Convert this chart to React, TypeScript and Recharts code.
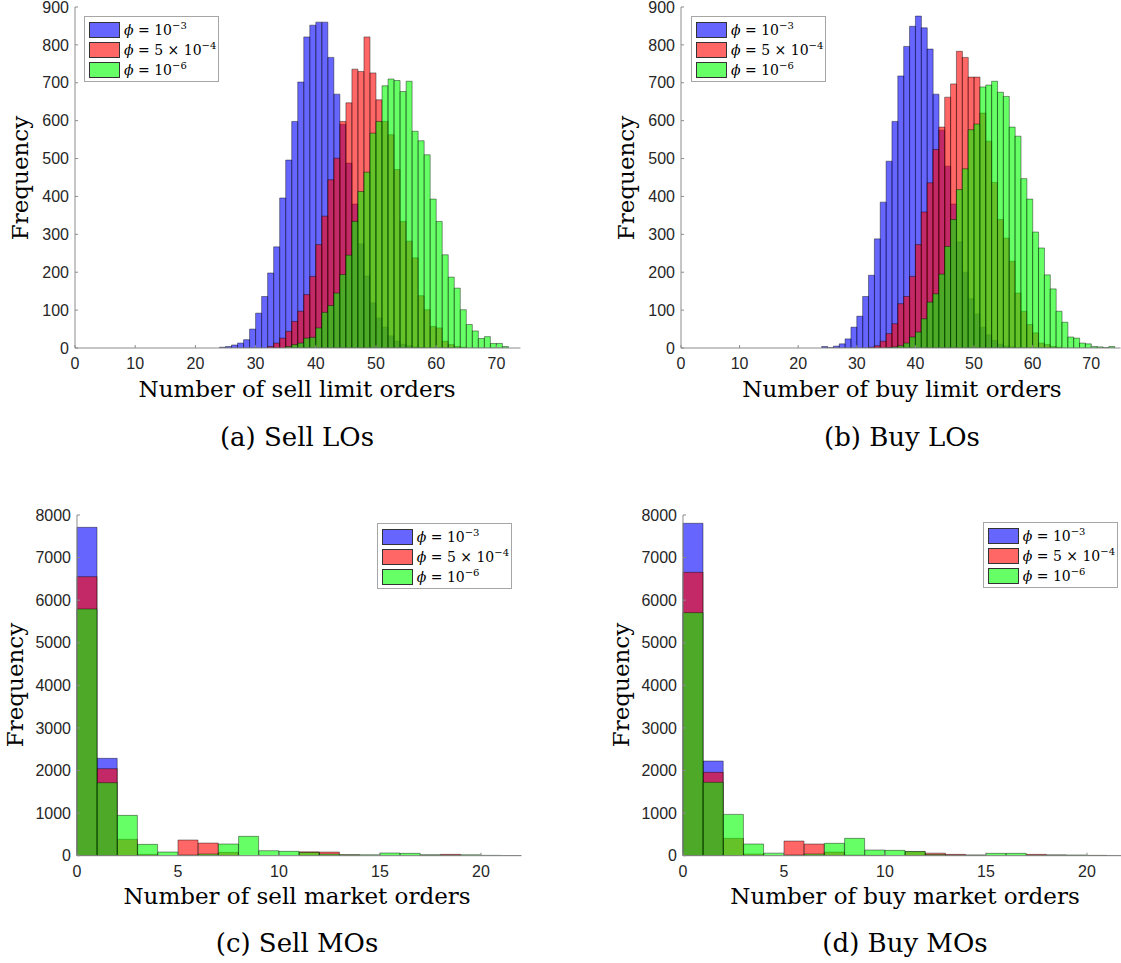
import React from "react";
import { Bar, BarChart, Legend, XAxis, YAxis } from "recharts";

const FONT_SERIF = "'DejaVu Serif', serif";
const FONT_SANS = "'Liberation Sans', Arial, sans-serif";

const BLUE = "#0000ff";
const RED = "#ff0000";
const GREEN = "#00ff00";

// (a) sell limit orders: counts per unit bin, first bin given by *_START
const SELL_LO_BLUE_START = 24;
const sellLoBlue = [2, 4, 8, 13, 22, 50, 92, 136, 198, 267, 396, 496, 598, 702, 821, 852, 860, 860, 767, 670, 590, 488, 380, 275, 190, 119, 79, 55, 32, 18, 10, 6, 3, 1];
const SELL_LO_RED_START = 32;
const sellLoRed = [4, 13, 26, 44, 70, 97, 141, 189, 273, 348, 444, 501, 598, 647, 736, 730, 821, 726, 655, 598, 563, 471, 334, 282, 238, 138, 101, 57, 53, 18, 9, 4, 2];
const SELL_LO_GREEN_START = 35;
const sellLoGreen = [4, 9, 13, 26, 28, 53, 94, 112, 145, 194, 245, 334, 413, 464, 567, 598, 692, 710, 706, 677, 704, 572, 547, 510, 393, 334, 246, 187, 158, 101, 62, 45, 25, 30, 12, 12, 4];

// (b) buy limit orders
const BUY_LO_BLUE_START = 24;
const buyLoBlue = [4, 1, 5, 11, 24, 55, 84, 136, 192, 288, 385, 493, 598, 718, 796, 849, 876, 845, 789, 670, 575, 480, 380, 280, 200, 130, 90, 55, 35, 20, 10, 5, 3];
const BUY_LO_RED_START = 32;
const buyLoRed = [2, 6, 18, 38, 64, 117, 136, 189, 273, 359, 436, 524, 583, 662, 697, 783, 767, 715, 715, 620, 546, 437, 339, 290, 229, 145, 97, 62, 40, 13, 9, 4, 2];
const BUY_LO_GREEN_START = 35;
const buyLoGreen = [1, 3, 6, 13, 29, 42, 77, 121, 143, 195, 268, 339, 418, 473, 576, 591, 689, 694, 704, 675, 664, 583, 559, 447, 393, 306, 264, 193, 156, 97, 68, 29, 26, 13, 11, 4, 3, 1, 4];

// (c) sell market orders, bins start at 0
const sellMoBlue = [7710, 2286];
const sellMoRed = [6552, 2043, 384, 31, 0, 368, 297, 78, 0, 0, 0, 90, 86, 20, 0, 0, 0, 10, 31, 0, 0, 0];
const sellMoGreen = [5793, 1714, 947, 266, 86, 15, 39, 274, 454, 117, 102, 75, 39, 20, 23, 63, 55, 23, 10, 23, 8, 3];

// (d) buy market orders
const buyMoBlue = [7805, 2223];
const buyMoRed = [6654, 1957, 407, 39, 0, 344, 274, 86, 16, 10, 0, 95, 60, 31, 10, 0, 0, 31, 16, 5, 3, 0];
const buyMoGreen = [5707, 1722, 970, 274, 60, 16, 39, 290, 407, 133, 125, 100, 30, 10, 16, 55, 55, 8, 16, 16, 8, 5];

const LO_X_TICKS = [0, 10, 20, 30, 40, 50, 60, 70];
const MO_X_TICKS = [0, 5, 10, 15, 20];
const LO_Y_TICKS = [0, 100, 200, 300, 400, 500, 600, 700, 800, 900];
const MO_Y_TICKS = [0, 1000, 2000, 3000, 4000, 5000, 6000, 7000, 8000];

const LEGEND_ITEMS = [
  { color: "#6666ff", mant: "", exp: "\u22123" },
  { color: "#ff6666", mant: "5 \u00d7 ", exp: "\u22124" },
  { color: "#66ff66", mant: "", exp: "\u22126" },
];

function buildRows(
  binCount: number,
  blue: number[], blueStart: number,
  red: number[], redStart: number,
  green: number[], greenStart: number,
) {
  const rows = [];
  for (let k = 0; k < binCount; k++) {
    rows.push({
      bin: k,
      b: blue[k - blueStart] ?? 0,
      r: red[k - redStart] ?? 0,
      g: green[k - greenStart] ?? 0,
    });
  }
  return rows;
}

const Y_AXIS_W = 60;
const TOP_PAD = 12;
const RIGHT_PAD = 5;
const X_AXIS_H = 35;

const panels = [
  {
    key: "a",
    plotLeft: 74.7, plotTop: 7.3, plotW: 445.5, plotH: 341,
    rows: buildRows(74, sellLoBlue, SELL_LO_BLUE_START, sellLoRed, SELL_LO_RED_START, sellLoGreen, SELL_LO_GREEN_START),
    xMax: 74, xTicks: LO_X_TICKS, yMax: 900, yTicks: LO_Y_TICKS,
    legendX: 84, legendY: 16,
    yLabelX: 20, xLabel: "Number of sell limit orders", labelX: 297, labelY: 389,
    caption: "(a) Sell LOs", captionY: 437,
  },
  {
    key: "b",
    plotLeft: 680.7, plotTop: 7.3, plotW: 439.5, plotH: 341,
    rows: buildRows(75, buyLoBlue, BUY_LO_BLUE_START, buyLoRed, BUY_LO_RED_START, buyLoGreen, BUY_LO_GREEN_START),
    xMax: 75, xTicks: LO_X_TICKS, yMax: 900, yTicks: LO_Y_TICKS,
    legendX: 691, legendY: 16,
    yLabelX: 626, xLabel: "Number of buy limit orders", labelX: 902, labelY: 389,
    caption: "(b) Buy LOs", captionY: 437,
  },
  {
    key: "c",
    plotLeft: 76.7, plotTop: 515, plotW: 444.4, plotH: 340.7,
    rows: buildRows(22, sellMoBlue, 0, sellMoRed, 0, sellMoGreen, 0),
    xMax: 22, xTicks: MO_X_TICKS, yMax: 8000, yTicks: MO_Y_TICKS,
    legendX: 376.7, legendY: 523.3,
    yLabelX: 15, xLabel: "Number of sell market orders", labelX: 297, labelY: 896,
    caption: "(c) Sell MOs", captionY: 943,
  },
  {
    key: "d",
    plotLeft: 683.3, plotTop: 515, plotW: 444.4, plotH: 340.7,
    rows: buildRows(22, buyMoBlue, 0, buyMoRed, 0, buyMoGreen, 0),
    xMax: 22, xTicks: MO_X_TICKS, yMax: 8000, yTicks: MO_Y_TICKS,
    legendX: 982.7, legendY: 522.3,
    yLabelX: 621, xLabel: "Number of buy market orders", labelX: 905, labelY: 896,
    caption: "(d) Buy MOs", captionY: 943,
  },
];

function LegendBox() {
  return (
    <div
      style={{
        width: 133,
        height: 64,
        border: "1px solid #a6a6a6",
        background: "#fff",
        fontFamily: FONT_SERIF,
        fontSize: 14,
        color: "#000",
        boxSizing: "content-box",
      }}
    >
      {LEGEND_ITEMS.map((item, i) => (
        <div key={i} style={{ display: "flex", alignItems: "center", height: 20, marginTop: i === 0 ? 3 : 0 }}>
          <span
            style={{
              display: "inline-block",
              width: 29,
              height: 14,
              marginLeft: 4,
              marginRight: 4,
              background: item.color,
              border: "1px solid #333",
            }}
          />
          <span style={{ whiteSpace: "nowrap", lineHeight: 1 }}>
            <i>{"\u03d5"}</i> = {item.mant}10
            <span style={{ fontSize: 10, position: "relative", top: -6 }}>{item.exp}</span>
          </span>
        </div>
      ))}
    </div>
  );
}

function Text({ x, y, size = 23, children, rotate = false }: { x: number; y: number; size?: number; children: React.ReactNode; rotate?: boolean }) {
  return (
    <div
      style={{
        position: "absolute",
        left: x,
        top: y,
        transform: `translate(-50%, -50%)${rotate ? " rotate(-90deg)" : ""}`,
        fontFamily: FONT_SERIF,
        fontSize: size,
        color: "#000",
        whiteSpace: "nowrap",
        lineHeight: 1,
      }}
    >
      {children}
    </div>
  );
}

const axisStroke = "#8c8c8c";
const tickStyle = { fill: "#262626", fontSize: 16, fontFamily: FONT_SANS };

function Panel({ p }: { p: (typeof panels)[number] }) {
  const chartLeft = p.plotLeft - Y_AXIS_W;
  const chartTop = p.plotTop - TOP_PAD;
  const barProps = {
    fillOpacity: 0.6,
    stroke: "#000",
    strokeOpacity: 0.6,
    strokeWidth: 0.7,
    isAnimationActive: false,
  };
  return (
    <>
      <div style={{ position: "absolute", left: chartLeft, top: chartTop }}>
        <BarChart
          width={Y_AXIS_W + p.plotW + RIGHT_PAD}
          height={TOP_PAD + p.plotH + X_AXIS_H}
          data={p.rows}
          margin={{ top: TOP_PAD, right: RIGHT_PAD, bottom: 0, left: 0 }}
          barCategoryGap={0}
          barGap={0}
        >
          <XAxis
            xAxisId="n"
            dataKey="bin"
            type="number"
            domain={[0, p.xMax]}
            allowDataOverflow
            ticks={p.xTicks}
            interval={0}
            height={X_AXIS_H}
            tickSize={-3}
            tickMargin={13}
            axisLine={{ stroke: axisStroke }}
            tickLine={{ stroke: axisStroke }}
            tick={tickStyle}
          />
          <XAxis xAxisId="b" dataKey="bin" type="category" hide height={0} />
          <XAxis xAxisId="r" dataKey="bin" type="category" hide height={0} />
          <XAxis xAxisId="g" dataKey="bin" type="category" hide height={0} />
          <YAxis
            type="number"
            domain={[0, p.yMax]}
            allowDataOverflow
            ticks={p.yTicks}
            interval={0}
            width={Y_AXIS_W}
            tickSize={-3}
            tickMargin={9}
            axisLine={{ stroke: axisStroke }}
            tickLine={{ stroke: axisStroke }}
            tick={tickStyle}
          />
          <Bar xAxisId="b" dataKey="b" fill={BLUE} {...barProps} />
          <Bar xAxisId="r" dataKey="r" fill={RED} {...barProps} />
          <Bar xAxisId="g" dataKey="g" fill={GREEN} {...barProps} />
          <Legend
            layout="vertical"
            align="center"
            verticalAlign="middle"
            wrapperStyle={{ left: p.legendX - chartLeft, top: p.legendY - chartTop, width: "auto", bottom: "auto" }}
            content={() => <LegendBox />}
          />
        </BarChart>
      </div>
      <Text x={p.yLabelX} y={p.plotTop + p.plotH / 2} rotate>
        Frequency
      </Text>
      <Text x={p.labelX} y={p.labelY}>{p.xLabel}</Text>
      <Text x={p.labelX} y={p.captionY} size={26}>{p.caption}</Text>
    </>
  );
}

export default function App() {
  return (
    <div
      style={{
        position: "fixed",
        left: 0,
        top: 0,
        width: 1121,
        height: 963,
        overflow: "hidden",
        background: "#fff",
      }}
    >
      {panels.map((p) => (
        <Panel key={p.key} p={p} />
      ))}
    </div>
  );
}
